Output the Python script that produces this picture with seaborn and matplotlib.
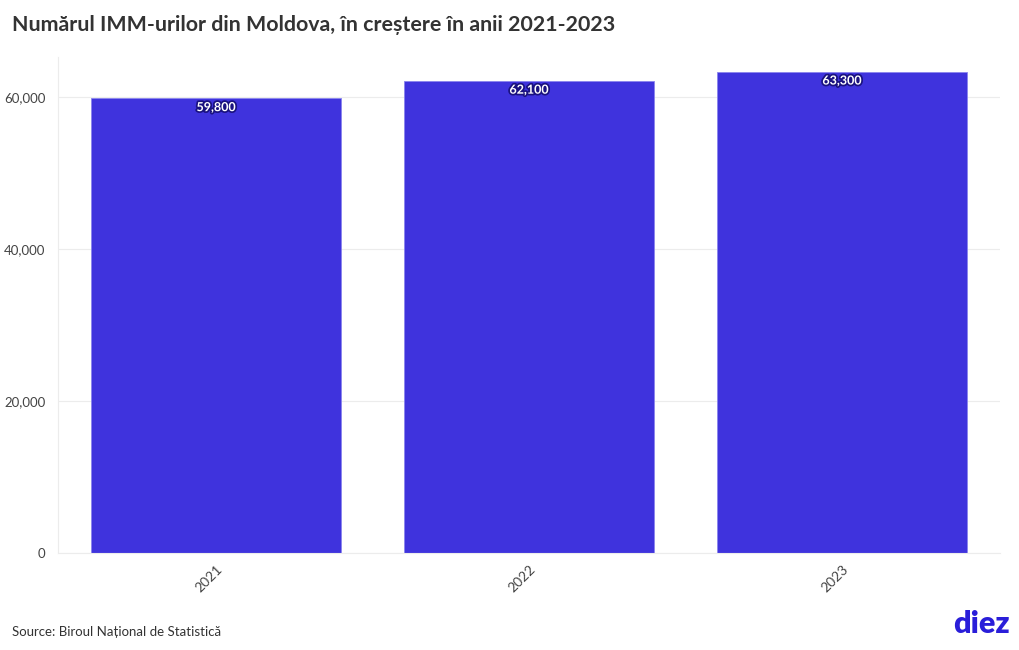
import matplotlib
matplotlib.use("Agg")
import matplotlib.pyplot as plt
import matplotlib.patheffects as pe
import seaborn as sns
import pandas as pd

years = ["2021", "2022", "2023"]
values = [59800, 62100, 63300]
value_labels = ["59,800", "62,100", "63,300"]
yticks = [0, 20000, 40000, 60000]
ytick_labels = ["0", "20,000", "40,000", "60,000"]

sns.set_theme(style="white")
plt.rcParams['font.family'] = ['Lato', 'DejaVu Sans']

df = pd.DataFrame({"year": years, "value": values})

fig = plt.figure(figsize=(10.2, 6.5), dpi=100)
ax = fig.add_axes([58/1020, 1-553/650, (1000-58)/1020, (553-57)/650])

sns.barplot(data=df, x="year", y="value", color="#3f33dd", saturation=1,
            width=0.8, ax=ax, edgecolor="#8a84ee", linewidth=0.6)

ax.set_xlim(-0.505, 2.505)
ax.set_ylim(0, 65260)
ax.set_yticks(yticks)
ax.set_yticklabels(ytick_labels)
ax.grid(axis="y", color="#ececec", linewidth=0.8)
ax.set_axisbelow(True)
for s in ["top", "right"]:
    ax.spines[s].set_visible(False)
for s in ["left", "bottom"]:
    ax.spines[s].set_color("#ececec")
    ax.spines[s].set_linewidth(0.8)
ax.set_xlabel("")
ax.set_ylabel("")
ax.tick_params(axis="x", rotation=45, labelsize=10, colors="#444444", length=4, color="#dddddd")
ax.tick_params(axis="y", labelsize=9.5, colors="#444444", length=0, pad=9)
for lab in ax.get_xticklabels():
    lab.set_ha("right")
    lab.set_rotation_mode("anchor")

for i, (v, t) in enumerate(zip(values, value_labels)):
    ax.text(i, v - 350, t, ha="center", va="top", fontsize=9, fontweight="bold",
            color="white",
            path_effects=[pe.withStroke(linewidth=2.5, foreground="#1a1280")])

fig.text(12/1020, 1-25/650, "Numărul IMM-urilor din Moldova, în creștere în anii 2021-2023",
         fontsize=15.4, fontweight="bold", color="#333333", va="center", ha="left")
fig.text(12/1020, 1-632/650, "Source: Biroul Național de Statistică",
         fontsize=9.5, color="#333333", va="center", ha="left")
fig.text(1010/1020, 1-624/650, "diez", fontsize=22, fontweight="heavy",
         color="#2a1ed9", va="center", ha="right")

fig.savefig("out.png", dpi=100)
